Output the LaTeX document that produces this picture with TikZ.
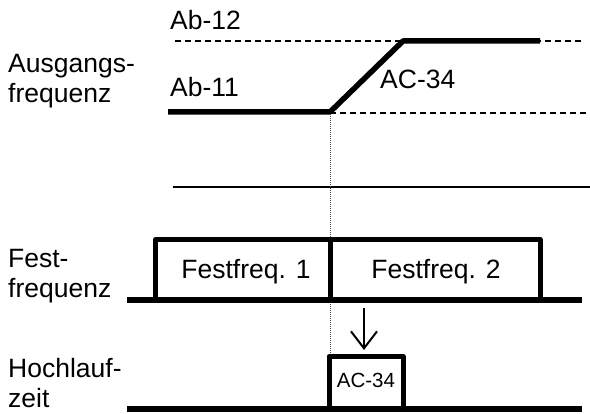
\documentclass[tikz,border=0pt]{standalone}
\usepackage{fontspec}
\setmainfont{Liberation Sans}
\usetikzlibrary{arrows.meta}
\begin{document}
\begin{tikzpicture}[x=1pt,y=-1pt,
  thick line/.style={line width=5.5pt,line join=round},
  box line/.style={line width=5pt,line join=round},
  guide/.style={line width=1.3pt,dash pattern=on 6pt off 4pt},
  thin line/.style={line width=1.5pt},
  marker/.style={line width=1pt,dash pattern=on 1pt off 1pt,black!70},
  lbl/.style={font=\fontsize{26.5}{30}\selectfont,inner sep=0pt,anchor=base west},
  sidelbl/.style={lbl,align=left},
  boxlbl/.style={font=\fontsize{26.5}{30}\selectfont,inner sep=0pt,anchor=base},
  smalllbl/.style={font=\fontsize{20.5}{24}\selectfont,inner sep=0pt,anchor=base}]
\useasboundingbox (0,0) rectangle (590,414);
% labels
\node[sidelbl] (aus) at (8,103) {Ausgangs-\\frequenz};
\node[sidelbl] (fest) at (8,298) {Fest-\\frequenz};
\node[sidelbl] (hoch) at (8,408) {Hochlauf-\\zeit};
\node[lbl] (ab12) at (170,30) {Ab-12};
\node[lbl] (ab11) at (170,97) {Ab-11};
\node[lbl] (ac) at (380,89) {AC-34};
% output frequency
\coordinate (d1a) at (175,41);
\coordinate (d1b) at (583,41);
\coordinate (d2a) at (330,113);
\coordinate (d2b) at (588,113);
\draw[guide] (d1a) -- (d1b);
\draw[guide] (d2a) -- (d2b);
\coordinate (f0) at (168,112);
\coordinate (f1) at (330,112);
\coordinate (f2) at (403,41);
\coordinate (f3) at (540,41);
\draw[thick line] (f0) -- (f1) -- (f2) -- (f3);
% separator
\coordinate (s0) at (173,187);
\coordinate (s1) at (590,187);
\draw[thin line] (s0) -- (s1);
% marker
\coordinate (m0) at (330,114);
\coordinate (m1) at (330,356);
\draw[marker] (m0) -- (m1);
% fixed frequency
\coordinate (b0) at (127,300);
\coordinate (b1) at (582,300);
\draw[thick line] (b0) -- (b1);
\draw[box line] (155.5,300) -- (155.5,239.5) -- (540,239.5) -- (540,300);
\draw[box line] (330,239.5) -- (330,300);
\node[boxlbl] (ff1) at (246,279) {Festfreq. 1};
\node[boxlbl] (ff2) at (436,279) {Festfreq. 2};
% arrow
\coordinate (a0) at (364,308);
\coordinate (a1) at (364,350);
\draw[line width=2pt,-{Straight Barb[length=17pt,width=26pt,line width=2pt]}] (a0) -- (a1);
% acceleration time
\coordinate (c0) at (127,409);
\coordinate (c1) at (582,409);
\draw[thick line] (c0) -- (c1);
\draw[box line] (329,409) -- (329,356.5) -- (403,356.5) -- (403,409);
\node[smalllbl] (acbox) at (366,388) {AC-34};
\end{tikzpicture}
\end{document}
